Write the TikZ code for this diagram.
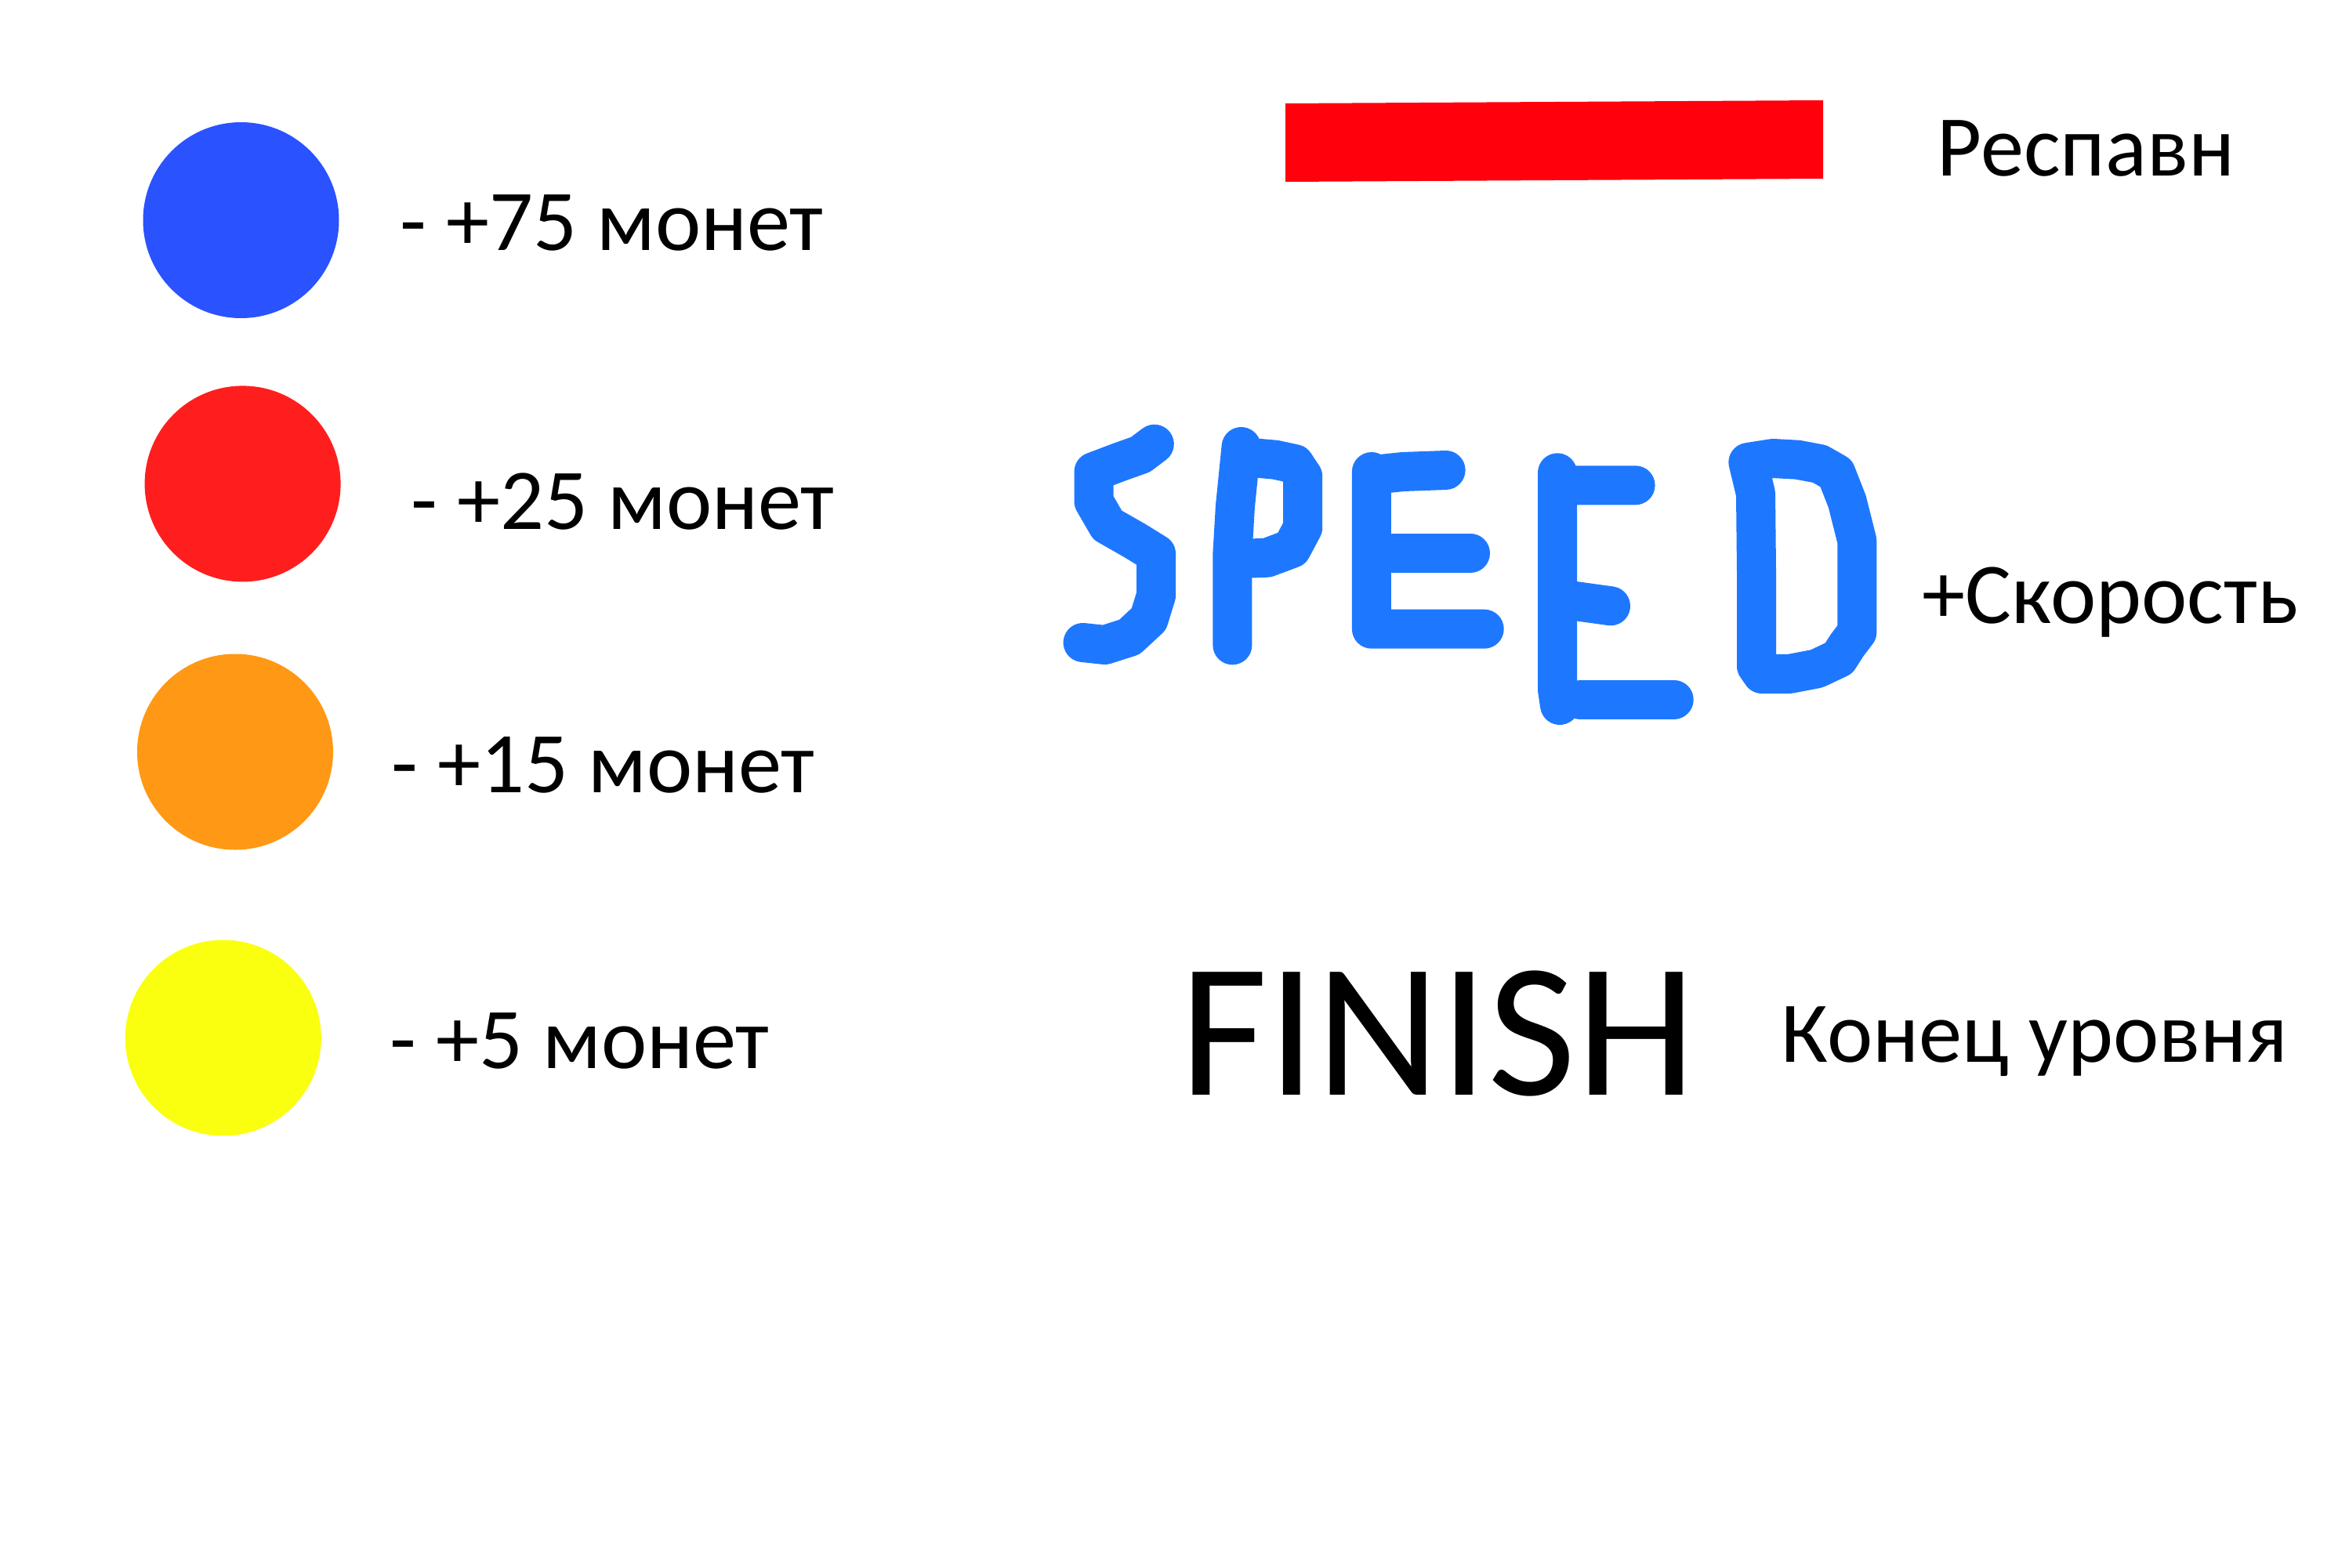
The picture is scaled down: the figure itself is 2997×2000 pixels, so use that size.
\documentclass[tikz,border=0pt]{standalone}
\usepackage{fontspec}
\setmainfont{Carlito}
\definecolor{cblue}{RGB}{42,82,255}
\definecolor{cred}{RGB}{255,30,30}
\definecolor{corange}{RGB}{255,152,20}
\definecolor{cyellow}{RGB}{250,255,15}
\definecolor{barred}{RGB}{255,0,12}
\definecolor{speedblue}{RGB}{30,120,255}
\tikzset{
  coin/.style={circle, minimum size=250*0.01cm, inner sep=0pt, fill=#1, draw=none},
  lbl/.style={anchor=base west, inner sep=0pt, font=\fontsize{31.4}{38}\selectfont},
  pen/.style={draw=speedblue, line width=0.5cm, line cap=round, line join=round}
}
\begin{document}
\begin{tikzpicture}[x=0.01cm,y=-0.01cm]
\useasboundingbox[fill=white] (0,0) rectangle (2997,2000);
% coins
\node[coin=cblue] (c1) at (307.5,281) {};
\node[coin=cred] (c2) at (309.6,617.4) {};
\node[coin=corange] (c3) at (300,959.5) {};
\node[coin=cyellow] (c4) at (284.8,1324.5) {};
\node[lbl] (t1) at (510,319) {- +75 монет};
\node[lbl] (t2) at (524,675) {- +25 монет};
\node[lbl] (t3) at (499,1011) {- +15 монет};
\node[lbl] (t4) at (497,1363) {- +5 монет};
% respawn bar
\fill[barred] (1640,132) -- (2326,128) -- (2326,228) -- (1640,232) -- cycle;
\node[lbl] (tr) at (2471,225) {Респавн};
% SPEED
\draw[pen] (1472.8,566.7) -- (1455.2,580) -- (1427.2,590) -- (1395.6,602) -- (1395.6,640) -- (1413,670) -- (1448,690) -- (1475,706.7) -- (1475,760) -- (1465.7,790) -- (1441,813) -- (1409.6,823) -- (1381.6,820);
\draw[pen] (1583.6,570) -- (1575.9,646.7) -- (1572.4,706.7) -- (1572.4,823.3);
\draw[pen] (1588.5,583.3) -- (1627,586.7) -- (1651.6,592) -- (1662.2,608) -- (1662.2,673.3) -- (1648,700) -- (1616.6,711.7) -- (1574.5,713.3);
\draw[pen] (1844.6,600) -- (1790,602) -- (1752,606) (1749.9,602) -- (1749.9,802.7) -- (1893.7,802.7);
\draw[pen] (1778,706) -- (1876,706);
\draw[pen] (2086.6,619.3) -- (1987,619.3) (1987,603.3) -- (1987,880) -- (1990,900);
\draw[pen] (1995.4,765) -- (2055,773.3);
\draw[pen] (2016.4,892.7) -- (2135.7,892.7);
\draw[pen] (2230.4,590) -- (2262,585) -- (2293.5,586.7) -- (2321.6,592) -- (2342.6,604) -- (2356.7,640) -- (2369.3,690) -- (2369.3,806.7) -- (2356.7,823.3) -- (2346,840) -- (2318,853.3) -- (2283,860) -- (2248,860) -- (2241,850) -- (2241,730) -- (2240,630) -- (2230.4,590);
\node[lbl] (ts) at (2452,795) {+Скорость};
% FINISH
\node[anchor=base west, inner sep=0pt, font=\fontsize{69.5}{80}\selectfont] (fin) at (1505,1397) {FINISH};
\node[lbl] (tf) at (2272,1355) {Конец уровня};
\end{tikzpicture}
\end{document}
